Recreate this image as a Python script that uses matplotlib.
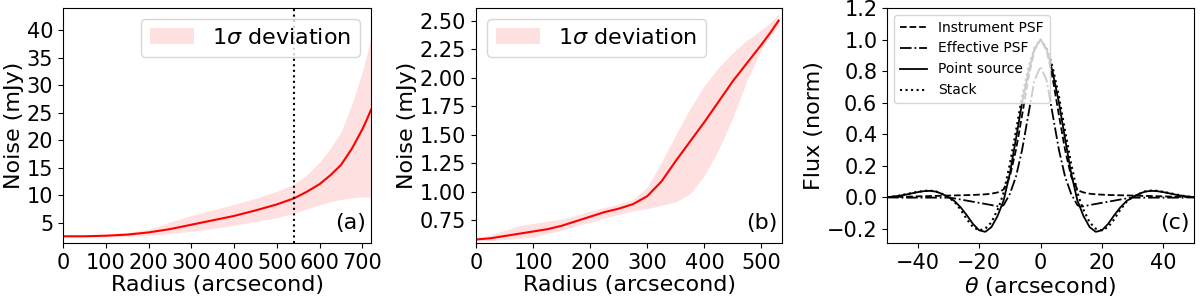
import numpy as np
import matplotlib.pyplot as plt

# panel (a): noise vs radius
r_a = [0, 50, 100, 150, 200, 225, 250, 300, 350, 400, 450, 500, 540, 570, 600, 625, 650, 675, 700, 710, 720]
noise_a = [2.5, 2.5, 2.6, 2.8, 3.2, 3.5, 3.8, 4.6, 5.4, 6.2, 7.2, 8.3, 9.4, 10.6, 12.0, 13.6, 15.5, 18.4, 22.0, 23.7, 25.5]
upper_a = [2.6, 2.7, 2.9, 3.2, 3.8, 4.4, 5.1, 6.3, 7.3, 8.3, 9.4, 10.7, 12.0, 13.7, 16.0, 18.5, 21.5, 26.5, 32.5, 35.5, 39.0]
lower_a = [2.4, 2.4, 2.4, 2.5, 2.7, 2.8, 3.0, 3.4, 3.9, 4.5, 5.2, 5.9, 6.7, 7.5, 8.2, 8.8, 9.2, 9.5, 9.7, 9.7, 9.6]

# panel (b)
r_b = [0, 25, 50, 75, 100, 125, 150, 175, 200, 225, 250, 275, 300, 325, 350, 375, 400, 425, 450, 475, 500, 515, 530]
noise_b = [0.58, 0.59, 0.61, 0.63, 0.65, 0.67, 0.70, 0.74, 0.78, 0.82, 0.85, 0.89, 0.96, 1.09, 1.27, 1.44, 1.61, 1.79, 1.97, 2.13, 2.29, 2.39, 2.50]
upper_b = [0.59, 0.62, 0.66, 0.70, 0.72, 0.74, 0.76, 0.79, 0.83, 0.86, 0.89, 0.93, 1.04, 1.26, 1.50, 1.73, 1.93, 2.09, 2.22, 2.33, 2.42, 2.48, 2.56]
lower_b = [0.57, 0.57, 0.58, 0.59, 0.60, 0.63, 0.66, 0.70, 0.73, 0.77, 0.80, 0.83, 0.85, 0.88, 0.91, 0.98, 1.14, 1.37, 1.65, 1.98, 2.25, 2.36, 2.45]

# panel (c): profiles
theta = [-50, -48, -46, -44, -42, -40, -38, -36, -34, -32, -30, -28, -26, -24, -22, -20, -18, -16, -14, -13, -12, -10, -8, -6, -4, -2,
         0, 2, 4, 6, 8, 10, 12, 13, 14, 16, 18, 20, 22, 24, 26, 28, 30, 32, 34, 36, 38, 40, 42, 44, 46, 48, 50]
instrument = [0.0, 0.001, 0.002, 0.003, 0.004, 0.005, 0.006, 0.007, 0.008, 0.009, 0.01, 0.011, 0.012, 0.013, 0.014, 0.016, 0.018, 0.022, 0.03, 0.037, 0.05, 0.13, 0.3, 0.52, 0.75, 0.93,
              1.0, 0.93, 0.75, 0.52, 0.3, 0.13, 0.05, 0.037, 0.03, 0.022, 0.018, 0.016, 0.014, 0.013, 0.012, 0.011, 0.01, 0.009, 0.008, 0.007, 0.006, 0.005, 0.004, 0.003, 0.002, 0.001, 0.0]
effective = [-0.002, -0.002, -0.003, -0.003, -0.003, -0.003, -0.003, -0.003, -0.003, -0.003, -0.003, -0.008, -0.015, -0.022, -0.029, -0.036, -0.043, -0.05, -0.058, -0.06, -0.05, 0.02, 0.13, 0.3, 0.52, 0.74,
             0.83, 0.74, 0.52, 0.3, 0.13, 0.02, -0.05, -0.06, -0.058, -0.05, -0.043, -0.036, -0.029, -0.022, -0.015, -0.008, -0.003, -0.003, -0.003, -0.003, -0.003, -0.003, -0.003, -0.003, -0.003, -0.002, -0.002]
point = [0.0, 0.004, 0.009, 0.016, 0.024, 0.032, 0.038, 0.04, 0.035, 0.02, 0.0, -0.025, -0.065, -0.115, -0.17, -0.21, -0.22, -0.19, -0.12, -0.07, -0.02, 0.15, 0.37, 0.6, 0.79, 0.94,
         1.0, 0.94, 0.79, 0.6, 0.37, 0.15, -0.02, -0.07, -0.12, -0.19, -0.22, -0.21, -0.17, -0.115, -0.065, -0.025, 0.0, 0.02, 0.035, 0.04, 0.038, 0.032, 0.024, 0.016, 0.009, 0.004, 0.0]
stack = [0.0, 0.004, 0.01, 0.018, 0.026, 0.034, 0.04, 0.042, 0.036, 0.02, 0.0, -0.03, -0.08, -0.14, -0.19, -0.21, -0.2, -0.16, -0.08, -0.03, 0.03, 0.21, 0.42, 0.64, 0.82, 0.95,
         1.0, 0.95, 0.82, 0.64, 0.42, 0.21, 0.03, -0.03, -0.08, -0.16, -0.2, -0.21, -0.19, -0.14, -0.08, -0.03, 0.0, 0.02, 0.036, 0.042, 0.04, 0.034, 0.026, 0.018, 0.01, 0.004, 0.0]

plt.rcParams['font.size'] = 15

fig = plt.figure(figsize=(12, 2.98), dpi=100)
ax1 = fig.add_axes([0.0525, 0.185, 0.2567, 0.788])
ax2 = fig.add_axes([0.3967, 0.185, 0.2550, 0.788])
ax3 = fig.add_axes([0.7392, 0.185, 0.2558, 0.788])

# (a)
ax1.fill_between(r_a, lower_a, upper_a, color='red', alpha=0.12, linewidth=0, label=r'1$\sigma$ deviation')
ax1.plot(r_a, noise_a, color='red', lw=1.5)
ax1.axvline(540, color='black', ls=':', lw=1.5)
ax1.set_xlim(0, 720)
ax1.set_ylim(1.3, 44)
ax1.set_xticks(range(0, 701, 100))
ax1.set_yticks(range(5, 41, 5))
ax1.set_xlabel('Radius (arcsecond)', fontsize=16, labelpad=2)
ax1.set_ylabel('Noise (mJy)', fontsize=16, labelpad=2)
ax1.legend(loc='upper right', fontsize=16)
ax1.text(0.985, 0.04, '(a)', transform=ax1.transAxes, ha='right', va='bottom', fontsize=16)

# (b)
ax2.fill_between(r_b, lower_b, upper_b, color='red', alpha=0.12, linewidth=0, label=r'1$\sigma$ deviation')
ax2.plot(r_b, noise_b, color='red', lw=1.5)
ax2.set_xlim(0, 536)
ax2.set_ylim(0.55, 2.61)
ax2.set_xticks(range(0, 501, 100))
ax2.set_yticks(np.arange(0.75, 2.51, 0.25))
ax2.set_xlabel('Radius (arcsecond)', fontsize=16, labelpad=2)
ax2.set_ylabel('Noise (mJy)', fontsize=16, labelpad=2)
ax2.legend(loc='upper left', fontsize=16)
ax2.text(0.985, 0.04, '(b)', transform=ax2.transAxes, ha='right', va='bottom', fontsize=16)

# (c)
ax3.plot(theta, instrument, color='black', ls='--', lw=1.3, label='Instrument PSF')
ax3.plot(theta, effective, color='black', ls='-.', lw=1.3, label='Effective PSF')
ax3.plot(theta, point, color='black', ls='-', lw=1.3, label='Point source')
ax3.plot(theta, stack, color='black', ls=':', lw=1.5, label='Stack')
ax3.set_xlim(-50, 50)
ax3.set_ylim(-0.29, 1.2)
ax3.set_xticks([-40, -20, 0, 20, 40])
ax3.set_yticks(np.arange(-0.2, 1.21, 0.2))
ax3.set_xlabel(r'$\theta$ (arcsecond)', fontsize=16, labelpad=2)
ax3.set_ylabel('Flux (norm)', fontsize=16, labelpad=2)
ax3.legend(loc='upper left', fontsize=10)
ax3.text(0.985, 0.04, '(c)', transform=ax3.transAxes, ha='right', va='bottom', fontsize=16)

plt.savefig('out.png', dpi=100)
